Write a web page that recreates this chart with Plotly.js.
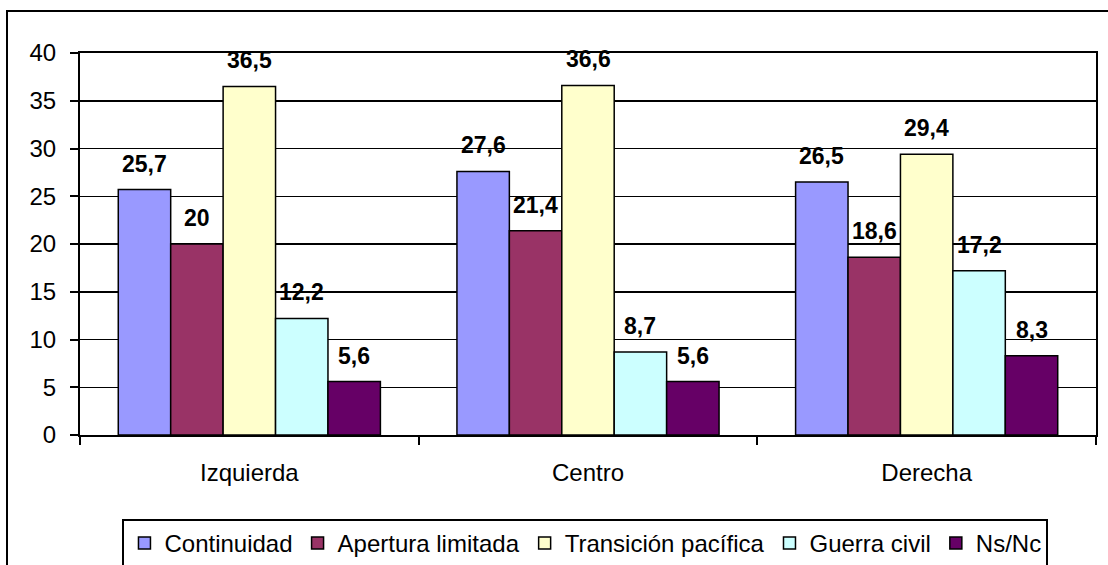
<!DOCTYPE html>
<html>
<head>
<meta charset="utf-8">
<script src="https://cdn.plot.ly/plotly-3.0.1.min.js"></script>
<style>
  html, body { margin: 0; padding: 0; background: #ffffff; }
  #chart { width: 1108px; height: 565px; }
</style>
</head>
<body>
<div id="chart"></div>
<script>
// ---- Data ----
const categories = ["Izquierda", "Centro", "Derecha"];
const seriesNames = ["Continuidad", "Apertura limitada", "Transición pacífica", "Guerra civil", "Ns/Nc"];
const continuidad = [25.7, 27.6, 26.5];
const aperturaLimitada = [20, 21.4, 18.6];
const transicionPacifica = [36.5, 36.6, 29.4];
const guerraCivil = [12.2, 8.7, 17.2];
const nsNc = [5.6, 5.6, 8.3];
const yTickValues = [0, 5, 10, 15, 20, 25, 30, 35, 40];

const seriesValues = [continuidad, aperturaLimitada, transicionPacifica, guerraCivil, nsNc];
const colors = ["#9999FF", "#993366", "#FFFFCC", "#CCFFFF", "#660066"];

const FONT = "Liberation Sans, Arial, sans-serif";
const W = 1108, H = 565;
const M = { l: 80, r: 12, t: 53, b: 130, autoexpand: false };
const BARGAP = 0.226;

const traces = seriesNames.map((name, i) => ({
  type: "bar",
  name: name,
  x: categories,
  y: seriesValues[i],
  marker: { color: colors[i], line: { color: "#000000", width: 1.5 } },
  hoverinfo: "skip"
}));

const plotW = W - M.l - M.r;
const plotH = H - M.t - M.b;
const catW = plotW / categories.length;
const barW = catW * (1 - BARGAP) / seriesNames.length;

const fmt = v => String(v).replace(".", ",");
const annotations = [];
seriesValues.forEach((vals, i) => {
  vals.forEach((v, j) => {
    annotations.push({
      x: categories[j], y: v, xref: "x", yref: "y",
      text: fmt(v), showarrow: false,
      xshift: (i - (seriesNames.length - 1) / 2) * barW,
      yshift: 26, yanchor: "middle",
      font: { family: FONT, size: 23, color: "#000000", weight: "bold" }
    });
  });
});

// outer chart frame (pixel -> paper)
const px = x => (x - M.l) / plotW;
const py = y => (H - M.b - y) / plotH;

const layout = {
  width: W, height: H,
  margin: M,
  paper_bgcolor: "#ffffff",
  plot_bgcolor: "#ffffff",
  barmode: "group",
  bargap: BARGAP,
  bargroupgap: 0,
  showlegend: true,
  font: { family: FONT, size: 24, color: "#000000" },
  xaxis: {
    type: "category",
    tickson: "boundaries",
    ticks: "outside", ticklen: 8, tickwidth: 2, tickcolor: "#000000",
    showline: true, linecolor: "#000000", linewidth: 2, mirror: true,
    showgrid: false,
    ticklabelstandoff: 15,
    tickfont: { family: FONT, size: 24, color: "#000000" }
  },
  yaxis: {
    range: [0, 40],
    tickvals: yTickValues,
    ticktext: yTickValues.map(String),
    ticks: "outside", ticklen: 8, tickwidth: 2, tickcolor: "#000000",
    showline: true, linecolor: "#000000", linewidth: 2, mirror: true,
    showgrid: true, gridcolor: "#000000", gridwidth: 1.5,
    zeroline: false,
    ticklabelstandoff: 9,
    tickfont: { family: FONT, size: 24, color: "#000000" }
  },
  legend: {
    orientation: "h",
    x: 0.4975, xanchor: "center",
    y: py(519), yanchor: "top",
    bordercolor: "#000000", borderwidth: 2,
    bgcolor: "#ffffff",
    font: { family: FONT, size: 24, color: "#000000" },
    itemwidth: 30,
    traceorder: "normal"
  },
  annotations: annotations,
  shapes: [{
    type: "rect", xref: "paper", yref: "paper",
    x0: px(7), x1: px(1130), y0: py(600), y1: py(11),
    line: { color: "#000000", width: 2 }, fillcolor: "rgba(0,0,0,0)", layer: "below"
  }]
};

Plotly.newPlot("chart", traces, layout, { displayModeBar: false, staticPlot: true });
</script>
</body>
</html>
